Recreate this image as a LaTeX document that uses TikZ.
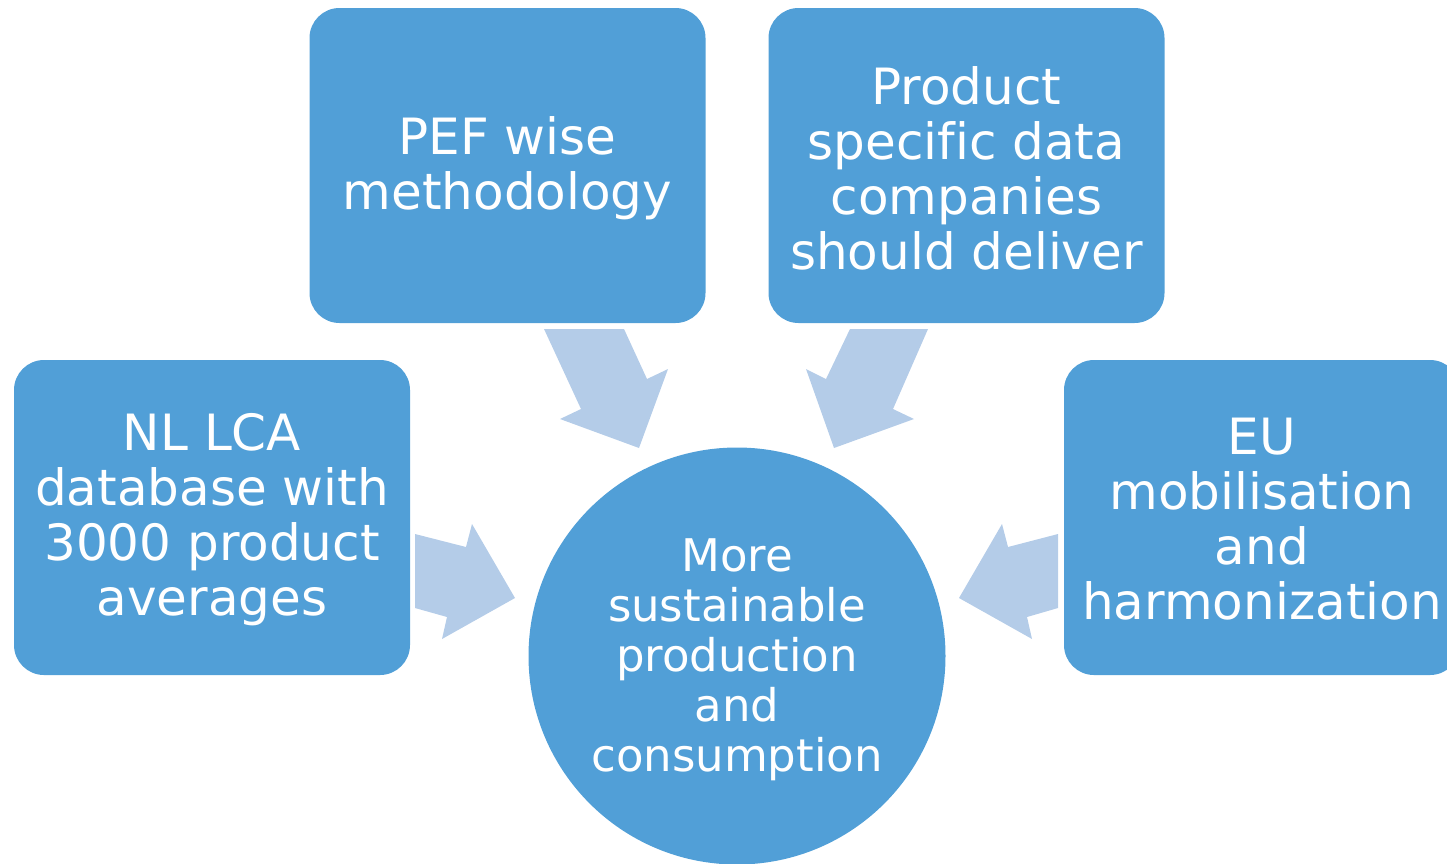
\documentclass[tikz,border=0pt]{standalone}
\usepackage{fontspec}
\setmainfont[Ligatures={NoCommon}]{DejaVu Sans}
\definecolor{boxblue}{HTML}{519FD7}
\definecolor{arrowblue}{HTML}{B4CCE8}
\begin{document}
\begin{tikzpicture}[x=1pt,y=-1pt,
  block/.style={fill=boxblue, draw=none, rounded corners=30pt,
    minimum width=396pt, minimum height=315pt, inner sep=0pt},
  blocktext/.style={text=white, align=center, inner sep=0pt,
    font=\fontsize{50}{55}\selectfont},
  hub/.style={circle, fill=boxblue, draw=none, minimum size=417pt, inner sep=0pt},
  hubtext/.style={text=white, align=center, inner sep=0pt,
    font=\fontsize{45}{50}\selectfont},
  flowarrow/.style={fill=arrowblue, draw=none}]
\useasboundingbox (0,0) rectangle (1447,863);
\clip (0,0) rectangle (1447,863);

% blocks
\node[block] (pef)  at (507.5,165.5) {};
\node[block] (prod) at (966.5,165.5) {};
\node[block] (nl)   at (212,517.5) {};
\node[block] (eu)   at (1262,517.5) {};
\node[blocktext] (peft)  at ([yshift=-3pt]pef.center) {PEF wise\\methodology};
\node[blocktext] (prodt) at ([yshift=-3pt]prod.center) {Product\\specific data\\companies\\should deliver};
\node[blocktext] (nlt)   at ([yshift=-2pt]nl.center) {NL LCA\\database with\\3000 product\\averages};
\node[blocktext] (eut)   at ([yshift=-2pt]eu.center) {EU\\mobilisation\\and\\harmonization};

% central goal
\node[hub] (goal) at (737,656) {};
\node[hubtext] (goalt) at ([yshift=-4pt]goal.center) {More\\sustainable\\production\\and\\consumption};

% block arrows pointing to the goal
\fill[flowarrow] (544,329) -- (624,329) -- (647,379) -- (668,369) -- (639,448)
  -- (560,419) -- (581,409) -- cycle;
\fill[flowarrow] (928,329) -- (850,329) -- (826,379) -- (806,369) -- (834,448)
  -- (914,419) -- (893,409) -- cycle;
\fill[flowarrow] (415,534) -- (466,547) -- (472,524) -- (515,598) -- (442,639)
  -- (447,617) -- (415,608) -- cycle;
\fill[flowarrow] (1058,534) -- (1008,547) -- (1002,524) -- (959,598) -- (1032,639)
  -- (1027,617) -- (1058,608) -- cycle;
\end{tikzpicture}
\end{document}
